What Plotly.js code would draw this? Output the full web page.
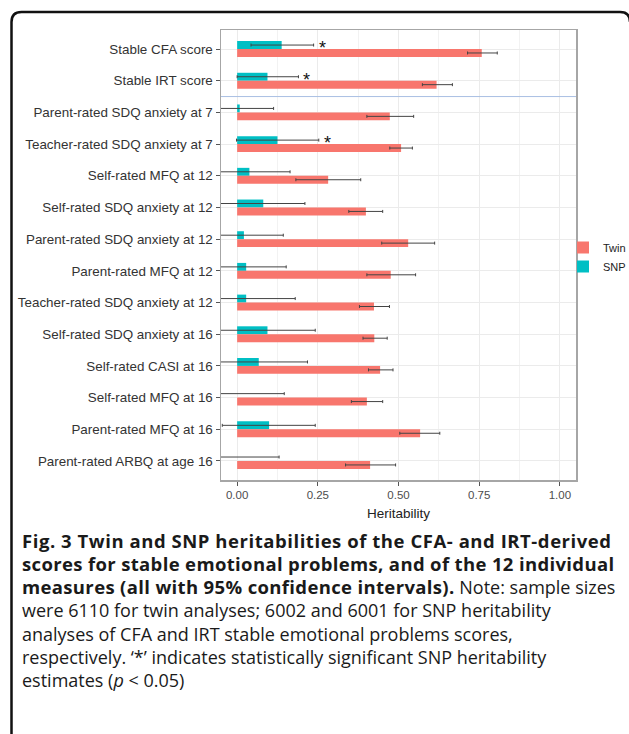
<!DOCTYPE html>
<html>
<head>
<meta charset="utf-8">
<script src="https://cdn.plot.ly/plotly-3.0.1.min.js"></script>
<style>
html,body{margin:0;padding:0;background:#fff;}
#chart{width:629px;height:734px;}
</style>
</head>
<body>
<div id="chart"></div>
<script>
// ---- data ----
var categories = [
  "Stable CFA score",
  "Stable IRT score",
  "Parent-rated SDQ anxiety at 7",
  "Teacher-rated SDQ anxiety at 7",
  "Self-rated MFQ at 12",
  "Self-rated SDQ anxiety at 12",
  "Parent-rated SDQ anxiety at 12",
  "Parent-rated MFQ at 12",
  "Teacher-rated SDQ anxiety at 12",
  "Self-rated SDQ anxiety at 16",
  "Self-rated CASI at 16",
  "Self-rated MFQ at 16",
  "Parent-rated MFQ at 16",
  "Parent-rated ARBQ at age 16"
];
var twin   = [0.758, 0.618, 0.473, 0.508, 0.282, 0.399, 0.530, 0.476, 0.424, 0.425, 0.443, 0.402, 0.567, 0.412];
var twinLo = [0.714, 0.574, 0.402, 0.473, 0.182, 0.346, 0.448, 0.402, 0.379, 0.390, 0.407, 0.354, 0.504, 0.336];
var twinHi = [0.806, 0.667, 0.547, 0.543, 0.383, 0.451, 0.612, 0.553, 0.472, 0.465, 0.483, 0.451, 0.628, 0.491];
var snp    = [0.138, 0.094, 0.008, 0.125, 0.038, 0.081, 0.021, 0.028, 0.028, 0.094, 0.067, 0.000, 0.099, 0.000];
var snpLo  = [0.043, 0.000, -0.07, -0.002, -0.08, -0.07, -0.08, -0.08, -0.08, -0.08, -0.07, -0.09, -0.046, -0.09];
var snpHi  = [0.237, 0.190, 0.113, 0.253, 0.164, 0.210, 0.143, 0.152, 0.180, 0.242, 0.218, 0.146, 0.242, 0.130];
var snpSig = [true, true, false, true, false, false, false, false, false, false, false, false, false, false];
var xTickVals = [0, 0.25, 0.5, 0.75, 1];
var xTickText = ["0.00", "0.25", "0.50", "0.75", "1.00"];
var seriesNames = ["Twin", "SNP"];
function bold(t, ls) {
  return '<span style="font-size:18.5px;letter-spacing:' + ls + 'px"><b>' + t + '</b></span>';
}
var captionLines = [
  bold("Fig. 3 Twin and SNP heritabilities of the CFA- and IRT-derived", 0.55),
  bold("scores for stable emotional problems, and of the 12 individual", 0.35),
  bold("measures (all with 95% confidence intervals).", 0.35) + " Note: sample sizes",
  "were 6110 for twin analyses; 6002 and 6001 for SNP heritability",
  "analyses of CFA and IRT stable emotional problems scores,",
  "respectively. \u2018*\u2019 indicates statistically significant SNP heritability",
  "estimates (<i>p</i> &lt; 0.05)"
];

// ---- build ----
function diff(a, b) { return a.map(function (v, i) { return v - b[i]; }); }

var W = 629, H = 734, ML = 221, MR = 53, MT = 30, MB = 254;
var PW = W - ML - MR, PH = H - MT - MB;
function px(x) { return (x - ML) / PW; }
function py(y) { return (H - MB - y) / PH; }

var errStyle = {type: 'data', symmetric: false, color: '#444', thickness: 1, width: 1.5};

var snpTrace = {
  type: 'bar', orientation: 'h', name: seriesNames[1],
  y: categories, x: snp,
  marker: {color: '#00BFC4', line: {width: 0}},
  error_x: Object.assign({array: diff(snpHi, snp), arrayminus: diff(snp, snpLo)}, errStyle),
  hoverinfo: 'skip'
};
var twinTrace = {
  type: 'bar', orientation: 'h', name: seriesNames[0],
  y: categories, x: twin,
  marker: {color: '#F8766D', line: {width: 0}},
  error_x: Object.assign({array: diff(twinHi, twin), arrayminus: diff(twin, twinLo)}, errStyle),
  hoverinfo: 'skip'
};

var annotations = [];
snpSig.forEach(function (s, i) {
  if (s) {
    annotations.push({
      x: snpHi[i], y: categories[i], xref: 'x', yref: 'y',
      text: '*', showarrow: false, xanchor: 'left', yanchor: 'middle',
      xshift: 3, yshift: 1,
      font: {family: 'Liberation Sans, Arial, sans-serif', size: 18, color: '#111'}
    });
  }
});
var capTop = 540, capStep = 23.4;
captionLines.forEach(function (t, i) {
  var ypx = capTop + i * capStep;
  annotations.push({
    x: px(20), xref: 'paper', xanchor: 'left',
    y: py(ypx), yref: 'paper', yanchor: 'middle',
    text: t, showarrow: false, align: 'left',
    font: {family: 'Open Sans, sans-serif', size: 18, color: '#1a1a1a'}
  });
});

// frame (rounded box) in paper coordinates
var L = 11.5, T = 12, R = 630, B = 734, r = 10;
var framePath = 'M ' + px(L) + ',' + py(B) +
  ' L ' + px(L) + ',' + py(T + r) +
  ' Q ' + px(L) + ',' + py(T) + ' ' + px(L + r) + ',' + py(T) +
  ' L ' + px(R - r) + ',' + py(T) +
  ' Q ' + px(R) + ',' + py(T) + ' ' + px(R) + ',' + py(T + r);

var layout = {
  width: W, height: H,
  margin: {l: ML, r: MR, t: MT, b: MB},
  paper_bgcolor: '#fff', plot_bgcolor: '#fff',
  barmode: 'group', bargap: 0.5, bargroupgap: 0,
  showlegend: true,
  legend: {
    xref: 'container', yref: 'container',
    x: (W - MR) / W, xanchor: 'left', y: 1 - 257 / H, yanchor: 'middle',
    indentation: -13,
    traceorder: 'reversed', bgcolor: 'rgba(0,0,0,0)',
    font: {family: 'Liberation Sans, Arial, sans-serif', size: 11, color: '#222'},
    itemwidth: 30, tracegroupgap: 0
  },
  xaxis: {
    range: [-0.05, 1.05], tickvals: xTickVals, ticktext: xTickText,
    showgrid: true, gridcolor: '#ebebeb', gridwidth: 1,
    minor: {dtick: 0.125, showgrid: true, gridcolor: '#f2f2f2', gridwidth: 1},
    zeroline: false, showline: true, mirror: true, linecolor: '#a6a6a6', linewidth: 1.5,
    ticks: 'outside', ticklen: 4, tickcolor: '#555', tickwidth: 1,
    tickfont: {family: 'Liberation Sans, Arial, sans-serif', size: 11.5, color: '#4d4d4d'},
    title: {text: 'Heritability', standoff: 8,
            font: {family: 'Liberation Sans, Arial, sans-serif', size: 13.5, color: '#222'}},
    automargin: false,
    fixedrange: true
  },
  yaxis: {
    type: 'category', range: [13.6, -0.6],
    showgrid: true, gridcolor: '#ebebeb', gridwidth: 1,
    zeroline: false, showline: true, mirror: true, linecolor: '#a6a6a6', linewidth: 1.5,
    ticks: 'outside', ticklen: 4, tickcolor: '#555', tickwidth: 1,
    tickfont: {family: 'Liberation Sans, Arial, sans-serif', size: 13.4, color: '#333'},
    automargin: false,
    fixedrange: true
  },
  shapes: [
    {type: 'line', xref: 'paper', x0: 0, x1: 1, yref: 'y', y0: 1.5, y1: 1.5,
     line: {color: '#a9bfe3', width: 1}, layer: 'above'},
    {type: 'path', xref: 'paper', yref: 'paper', path: framePath,
     line: {color: '#111', width: 2.5}}
  ],
  annotations: annotations
};

Plotly.newPlot('chart', [snpTrace, twinTrace], layout, {staticPlot: true, displayModeBar: false});
</script>
</body>
</html>
